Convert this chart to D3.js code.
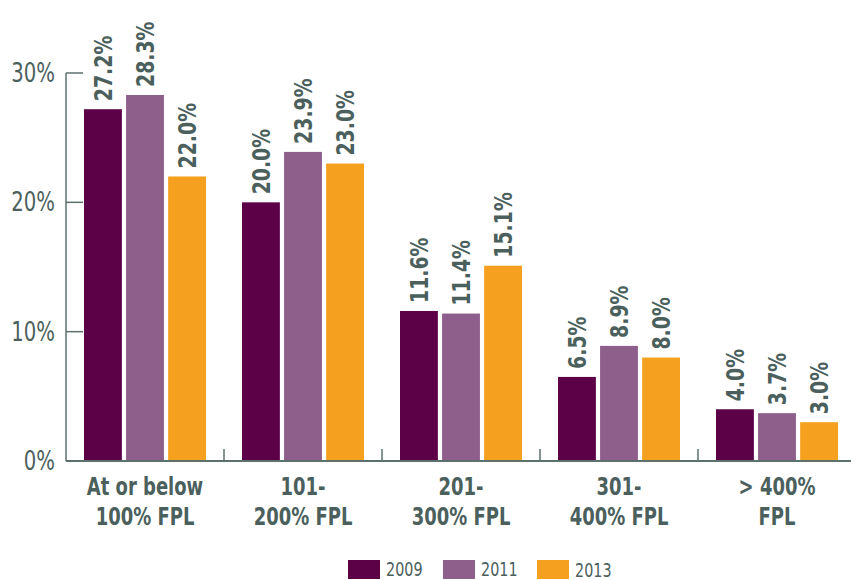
<!DOCTYPE html>
<html><head><meta charset="utf-8">
<script src="https://cdn.jsdelivr.net/npm/d3@7"></script>
<style>
body{margin:0;background:#fff;}
text{font-family:"DejaVu Sans Condensed","Liberation Sans Narrow",sans-serif;font-stretch:condensed;}
</style></head>
<body><svg id="c" width="851" height="580"></svg>
<script>
const categories = [["At or below","100% FPL"],["101-","200% FPL"],["201-","300% FPL"],["301-","400% FPL"],["> 400%","FPL"]];
const years = ["2009","2011","2013"];
const v2009 = [27.2, 20.0, 11.6, 6.5, 4.0];
const v2011 = [28.3, 23.9, 11.4, 8.9, 3.7];
const v2013 = [22.0, 23.0, 15.1, 8.0, 3.0];
const yTicks = [0, 10, 20, 30];
const colors = ["#5c0048", "#8e5f8a", "#f5a11f"];
const series = [v2009, v2011, v2013];

const svg = d3.select("#c");
const textCol = "#4b5f5d", axisCol = "#5d706e";
const sx = 0.84;
const x0 = d3.scaleBand().domain(d3.range(categories.length)).range([66, 856]).paddingInner(0.228).paddingOuter(0.114);
const x1 = d3.scaleBand().domain(d3.range(years.length)).range([0, x0.bandwidth()]).paddingInner(0.1);
const y = d3.scaleLinear().domain([0, 30]).range([461, 73]);

// y axis
svg.append("line").attr("x1",66).attr("x2",66).attr("y1",y(30)).attr("y2",y(0)).attr("stroke",axisCol).attr("stroke-width",1.5);
yTicks.forEach(t=>{
  svg.append("line").attr("x1",66).attr("x2",83).attr("y1",y(t)).attr("y2",y(t)).attr("stroke",axisCol).attr("stroke-width",1.5);
  svg.append("text").attr("transform",`translate(55,${y(t)+9}) scale(${sx},1)`).attr("text-anchor","end").attr("font-size",26).attr("fill",textCol).text(t+"%");
});

// bars
categories.forEach((c,i)=>{
  series.forEach((s,j)=>{
    const bx = x0(i)+x1(j);
    svg.append("rect").attr("x",bx).attr("y",y(s[i])).attr("width",x1.bandwidth()).attr("height",y(0)-y(s[i])).attr("fill",colors[j]);
    svg.append("text").attr("transform",`translate(${bx+x1.bandwidth()/2+9},${y(s[i])-8}) rotate(-90) scale(${sx},1)`)
      .attr("font-size",25).attr("font-weight","bold").attr("fill",textCol).text(s[i].toFixed(1)+"%");
  });
  // category label
  const cx = x0(i)+x0.bandwidth()/2;
  c.forEach((line,k)=>{
    svg.append("text").attr("transform",`translate(${cx},${495+k*30}) scale(0.8,1)`).attr("text-anchor","middle").attr("font-size",25).attr("font-weight","bold").attr("fill",textCol).text(line);
  });
});
// x axis
svg.append("line").attr("x1",66).attr("x2",851).attr("y1",y(0)).attr("y2",y(0)).attr("stroke",axisCol).attr("stroke-width",2);
d3.range(1,categories.length).forEach(i=>{
  const tx = x0(i) - x0.step()*x0.paddingInner()/2;
  svg.append("line").attr("x1",tx).attr("x2",tx).attr("y1",y(0)-12).attr("y2",y(0)).attr("stroke",axisCol).attr("stroke-width",1.5);
});

// legend
const legX = [348, 443, 537];
years.forEach((yr,j)=>{
  svg.append("rect").attr("x",legX[j]).attr("y",560).attr("width",32).attr("height",19).attr("fill",colors[j]);
  svg.append("text").attr("transform",`translate(${legX[j]+38},${j===2?577:576}) scale(${sx},1)`).attr("font-size",19).attr("fill",textCol).text(yr);
});
</script></body></html>
